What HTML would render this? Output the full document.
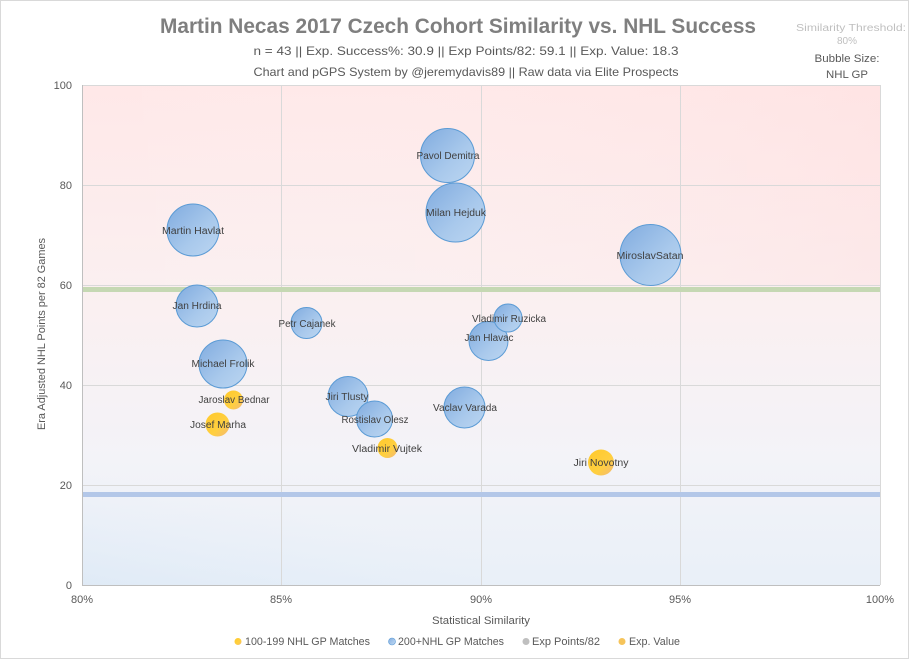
<!DOCTYPE html>
<html><head><meta charset="utf-8"><style>
html,body{margin:0;padding:0;background:#fff;}
svg{display:block;}
text{font-family:"Liberation Sans",sans-serif;}
</style></head><body>
<svg width="909" height="659" viewBox="0 0 909 659" xmlns="http://www.w3.org/2000/svg">
<defs>
<linearGradient id="bg" x1="0" y1="0" x2="0" y2="1">
<stop offset="0" stop-color="#ffe8e8"/>
<stop offset="0.45" stop-color="#faf0f1"/>
<stop offset="0.75" stop-color="#f3f3f8"/>
<stop offset="1" stop-color="#e9f0f8"/>
</linearGradient>
<linearGradient id="bgr" x1="0" y1="0" x2="1" y2="0">
<stop offset="0" stop-color="#ffffff" stop-opacity="0"/>
<stop offset="1" stop-color="#ffdada" stop-opacity="0.5"/>
</linearGradient>
<linearGradient id="bgb" x1="0" y1="1" x2="0.4" y2="0">
<stop offset="0" stop-color="#dde9f6" stop-opacity="0.8"/>
<stop offset="0.5" stop-color="#e6eef8" stop-opacity="0"/>
</linearGradient>
<linearGradient id="blu" x1="0" y1="0" x2="1" y2="1">
<stop offset="0" stop-color="#80abdf"/>
<stop offset="0.6" stop-color="#a9c9ec"/>
<stop offset="1" stop-color="#bcd6f1"/>
</linearGradient>
<linearGradient id="yel" x1="0" y1="0" x2="1" y2="1">
<stop offset="0" stop-color="#ffc92a"/>
<stop offset="0.6" stop-color="#ffcf40"/>
<stop offset="1" stop-color="#f2b878"/>
</linearGradient>
</defs>
<rect x="0.5" y="0.5" width="908" height="658" fill="#fff" stroke="#d9d9d9"/>

<!-- plot background -->
<rect x="82" y="85" width="798" height="500" fill="url(#bg)"/>
<rect x="82" y="85" width="798" height="200" fill="url(#bgr)" opacity="0.6"/>
<rect x="82" y="385" width="400" height="200" fill="url(#bgb)"/>

<!-- gridlines -->
<g stroke="#d9d9d9" stroke-width="1">
<line x1="281.5" y1="85" x2="281.5" y2="585"/>
<line x1="481.5" y1="85" x2="481.5" y2="585"/>
<line x1="680.5" y1="85" x2="680.5" y2="585"/>
<line x1="82" y1="185.5" x2="880" y2="185.5"/>
<line x1="82" y1="285.5" x2="880" y2="285.5"/>
<line x1="82" y1="385.5" x2="880" y2="385.5"/>
<line x1="82" y1="485.5" x2="880" y2="485.5"/>
<line x1="82" y1="85.5" x2="880" y2="85.5"/>
<line x1="880.5" y1="85" x2="880.5" y2="585"/>
</g>
<!-- bands -->
<rect x="82" y="287" width="798" height="5" fill="#c5d8b3"/>
<rect x="82" y="492" width="798" height="5" fill="#b3c7e8"/>
<!-- axes -->
<line x1="82.5" y1="85" x2="82.5" y2="586" stroke="#bfbfbf"/>
<line x1="82" y1="585.5" x2="880" y2="585.5" stroke="#bfbfbf"/>

<!-- bubbles -->
<g stroke="#5b9bd5" stroke-width="1" fill="url(#blu)">
<circle cx="447.5" cy="155.5" r="27"/>
<circle cx="455.5" cy="212.5" r="29.5"/>
<circle cx="650.5" cy="255" r="30.5"/>
<circle cx="193" cy="230" r="26"/>
<circle cx="197" cy="306" r="21"/>
<circle cx="306.5" cy="323" r="15.5"/>
<circle cx="223" cy="364" r="24"/>
<circle cx="348" cy="396.5" r="20"/>
<circle cx="374.5" cy="419" r="18"/>
<circle cx="488.5" cy="341" r="19.5"/>
<circle cx="508" cy="318" r="14"/>
<circle cx="464.5" cy="407.5" r="20.5"/>
</g>
<g fill="url(#yel)" stroke="none">
<circle cx="233.5" cy="400" r="9.5"/>
<circle cx="217.5" cy="424.5" r="12"/>
<circle cx="387.5" cy="448" r="10"/>
<circle cx="601" cy="462.5" r="13"/>
</g>

<!-- bubble labels -->
<g font-size="10" fill="#404040" text-anchor="middle" lengthAdjust="spacingAndGlyphs">
<text x="448" y="159" textLength="63" lengthAdjust="spacingAndGlyphs">Pavol Demitra</text>
<text x="456" y="216" textLength="60" lengthAdjust="spacingAndGlyphs">Milan Hejduk</text>
<text x="650" y="259" textLength="67" lengthAdjust="spacingAndGlyphs">MiroslavSatan</text>
<text x="193" y="234" textLength="62" lengthAdjust="spacingAndGlyphs">Martin Havlat</text>
<text x="197" y="309" textLength="49" lengthAdjust="spacingAndGlyphs">Jan Hrdina</text>
<text x="307" y="327" textLength="57" lengthAdjust="spacingAndGlyphs">Petr Cajanek</text>
<text x="223" y="367" textLength="63" lengthAdjust="spacingAndGlyphs">Michael Frolik</text>
<text x="234" y="403" textLength="71" lengthAdjust="spacingAndGlyphs">Jaroslav Bednar</text>
<text x="218" y="428" textLength="56" lengthAdjust="spacingAndGlyphs">Josef Marha</text>
<text x="347" y="400" textLength="43" lengthAdjust="spacingAndGlyphs">Jiri Tlusty</text>
<text x="375" y="423" textLength="67" lengthAdjust="spacingAndGlyphs">Rostislav Olesz</text>
<text x="387" y="452" textLength="70" lengthAdjust="spacingAndGlyphs">Vladimir Vujtek</text>
<text x="509" y="322" textLength="74" lengthAdjust="spacingAndGlyphs">Vladimir Ruzicka</text>
<text x="489" y="341" textLength="49" lengthAdjust="spacingAndGlyphs">Jan Hlavac</text>
<text x="465" y="411" textLength="64" lengthAdjust="spacingAndGlyphs">Vaclav Varada</text>
<text x="601" y="466" textLength="55" lengthAdjust="spacingAndGlyphs">Jiri Novotny</text>
</g>

<!-- y tick labels -->
<g font-size="11" fill="#595959" text-anchor="end">
<text x="72" y="89">100</text>
<text x="72" y="189">80</text>
<text x="72" y="289">60</text>
<text x="72" y="389">40</text>
<text x="72" y="489">20</text>
<text x="72" y="589">0</text>
</g>
<!-- x tick labels -->
<g font-size="11" fill="#595959" text-anchor="middle">
<text x="82" y="603">80%</text>
<text x="281" y="603">85%</text>
<text x="481" y="603">90%</text>
<text x="680" y="603">95%</text>
<text x="880" y="603">100%</text>
</g>
<text x="481" y="624" font-size="11" fill="#595959" text-anchor="middle" textLength="98" lengthAdjust="spacingAndGlyphs">Statistical Similarity</text>
<text transform="translate(45,334) rotate(-90)" font-size="11" fill="#595959" text-anchor="middle" textLength="192" lengthAdjust="spacingAndGlyphs">Era Adjusted NHL Points per 82 Games</text>

<!-- title -->
<text x="458" y="33" font-size="21" font-weight="bold" fill="#7f7f7f" text-anchor="middle" textLength="596" lengthAdjust="spacingAndGlyphs">Martin Necas 2017 Czech Cohort Similarity vs. NHL Success</text>
<text x="466" y="55" font-size="12" fill="#595959" text-anchor="middle" textLength="425" lengthAdjust="spacingAndGlyphs">n = 43 || Exp. Success%: 30.9 || Exp Points/82: 59.1 || Exp. Value: 18.3</text>
<text x="466" y="76" font-size="12" fill="#595959" text-anchor="middle" textLength="425" lengthAdjust="spacingAndGlyphs">Chart and pGPS System by @jeremydavis89 || Raw data via Elite Prospects</text>

<!-- right notes -->
<text x="851" y="31" font-size="10" fill="#bfbfbf" text-anchor="middle" textLength="110" lengthAdjust="spacingAndGlyphs">Similarity Threshold:</text>
<text x="847" y="44" font-size="10" fill="#bfbfbf" text-anchor="middle">80%</text>
<text x="847" y="62" font-size="11" fill="#595959" text-anchor="middle" textLength="65" lengthAdjust="spacingAndGlyphs">Bubble Size:</text>
<text x="847" y="78" font-size="11" fill="#595959" text-anchor="middle" textLength="42" lengthAdjust="spacingAndGlyphs">NHL GP</text>

<!-- legend -->
<circle cx="238" cy="641.5" r="3.5" fill="url(#yel)"/>
<text x="245" y="645" font-size="11" fill="#595959" textLength="125" lengthAdjust="spacingAndGlyphs">100-199 NHL GP Matches</text>
<circle cx="392" cy="641.5" r="3.5" fill="url(#blu)" stroke="#5b9bd5" stroke-width="0.6"/>
<text x="398" y="645" font-size="11" fill="#595959" textLength="106" lengthAdjust="spacingAndGlyphs">200+NHL GP Matches</text>
<circle cx="526" cy="641.5" r="3.5" fill="#bfbfbf"/>
<text x="532" y="645" font-size="11" fill="#595959" textLength="68" lengthAdjust="spacingAndGlyphs">Exp Points/82</text>
<circle cx="622" cy="641.5" r="3.5" fill="#f6c45a"/>
<text x="629" y="645" font-size="11" fill="#595959" textLength="51" lengthAdjust="spacingAndGlyphs">Exp. Value</text>
</svg>
</body></html>
